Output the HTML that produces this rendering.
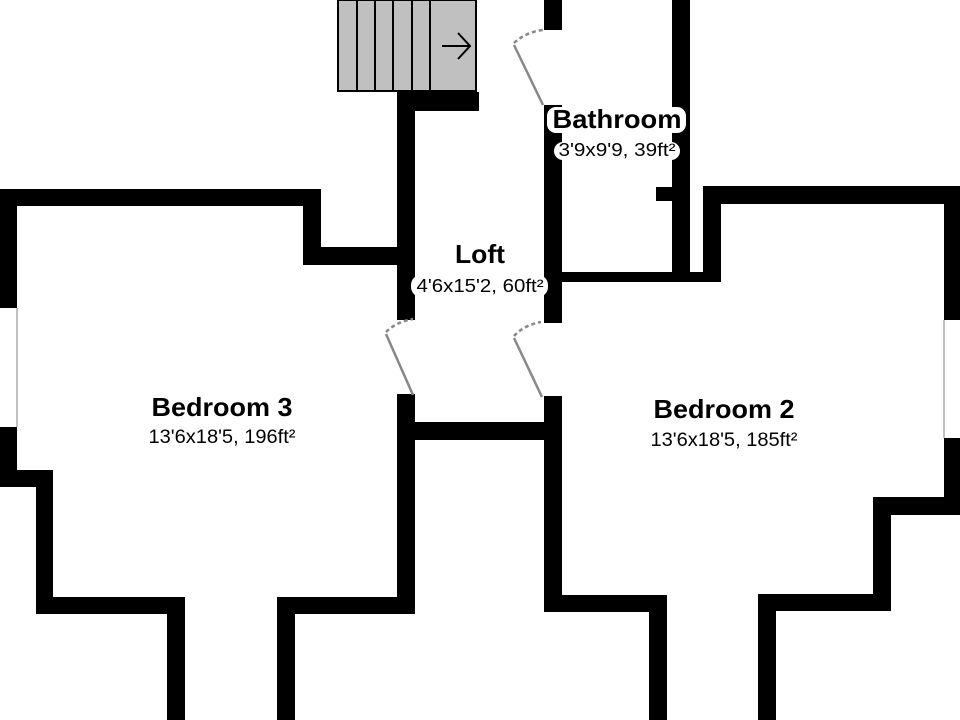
<!DOCTYPE html>
<html><head><meta charset="utf-8"><style>
html,body{margin:0;padding:0;background:#fff;}
svg{display:block;}
text{font-family:"Liberation Sans",Arial,sans-serif;fill:#000;}
</style></head><body>
<svg width="960" height="720" viewBox="0 0 960 720" xmlns="http://www.w3.org/2000/svg">
<rect width="960" height="720" fill="#fff"/>
<!-- stairs -->
<rect x="338" y="0" width="138" height="91" fill="#c0c0c0" stroke="#000" stroke-width="2"/>
<g stroke="#000" stroke-width="2">
<line x1="357" y1="0" x2="357" y2="91"/><line x1="375" y1="0" x2="375" y2="91"/>
<line x1="393" y1="0" x2="393" y2="91"/><line x1="412" y1="0" x2="412" y2="91"/>
<line x1="430" y1="0" x2="430" y2="91"/>
</g>
<g stroke="#000" stroke-width="2" fill="none">
<line x1="442" y1="46" x2="470" y2="46"/><polyline points="458,33 470,46 458,59"/>
</g>
<g fill="#000">
<rect x="397" y="92" width="82" height="19"/>
<rect x="397" y="92" width="18" height="228"/>
<rect x="397" y="394" width="18" height="220"/>
<rect x="0" y="189" width="321" height="17"/>
<rect x="0" y="189" width="17" height="119"/>
<rect x="303" y="189" width="18" height="76"/>
<rect x="303" y="247" width="112" height="18"/>
<rect x="0" y="427" width="17" height="60"/>
<rect x="0" y="470" width="53" height="17"/>
<rect x="36" y="470" width="17" height="144"/>
<rect x="36" y="597" width="149" height="17"/>
<rect x="167" y="597" width="18" height="123"/>
<rect x="277" y="597" width="138" height="17"/>
<rect x="277" y="597" width="18" height="123"/>
<rect x="415" y="422" width="145" height="18"/>
<rect x="544" y="0" width="18" height="30"/>
<rect x="544" y="105" width="18" height="218"/>
<rect x="672" y="0" width="18" height="282"/>
<rect x="656" y="187" width="16" height="14"/>
<rect x="562" y="272" width="159" height="10"/>
<rect x="544" y="396" width="18" height="216"/>
<rect x="544" y="595" width="123" height="17"/>
<rect x="649" y="595" width="18" height="125"/>
<rect x="703" y="186" width="18" height="96"/>
<rect x="703" y="186" width="257" height="18"/>
<rect x="944" y="186" width="16" height="134"/>
<rect x="944" y="438" width="16" height="77"/>
<rect x="873" y="497" width="87" height="18"/>
<rect x="873" y="497" width="18" height="114"/>
<rect x="758" y="594" width="133" height="17"/>
<rect x="758" y="594" width="18" height="126"/>
</g>
<line x1="17" y1="308" x2="17" y2="427" stroke="#aaa" stroke-width="1.5"/>
<line x1="944" y1="320" x2="944" y2="438" stroke="#aaa" stroke-width="1.5"/>
<g stroke="#888" stroke-width="2.5" fill="none">
<line x1="514" y1="45" x2="543" y2="105"/>
<line x1="386" y1="334" x2="413" y2="395"/>
<line x1="514" y1="338" x2="542" y2="397"/>
</g>
<g stroke="#888" stroke-width="2.5" fill="none" stroke-dasharray="4,3">
<path d="M514,43 Q526,32 543,30"/>
<path d="M386,332 Q396,322 413,319"/>
<path d="M514,336 Q524,325 541,322"/>
</g>
<rect x="547" y="107" width="139" height="26" rx="9" fill="#fff"/>
<rect x="554" y="142" width="126" height="18" rx="9" fill="#fff"/>
<rect x="411" y="275" width="137" height="22" rx="10" fill="#fff"/>
<text x="617" y="128" font-size="26" font-weight="bold" text-anchor="middle" textLength="129" lengthAdjust="spacingAndGlyphs">Bathroom</text>
<text x="617" y="156" font-size="18" text-anchor="middle" textLength="117" lengthAdjust="spacingAndGlyphs">3'9x9'9, 39ft²</text>
<text x="480" y="263" font-size="26" font-weight="bold" text-anchor="middle" textLength="50" lengthAdjust="spacingAndGlyphs">Loft</text>
<text x="480" y="292" font-size="18" text-anchor="middle" textLength="127" lengthAdjust="spacingAndGlyphs">4'6x15'2, 60ft²</text>
<text x="222" y="416" font-size="26" font-weight="bold" text-anchor="middle" textLength="141" lengthAdjust="spacingAndGlyphs">Bedroom 3</text>
<text x="222" y="443" font-size="19" text-anchor="middle" textLength="147" lengthAdjust="spacingAndGlyphs">13'6x18'5, 196ft²</text>
<text x="724" y="418" font-size="26" font-weight="bold" text-anchor="middle" textLength="141" lengthAdjust="spacingAndGlyphs">Bedroom 2</text>
<text x="724" y="446" font-size="19" text-anchor="middle" textLength="147" lengthAdjust="spacingAndGlyphs">13'6x18'5, 185ft²</text>
</svg>
</body></html>
